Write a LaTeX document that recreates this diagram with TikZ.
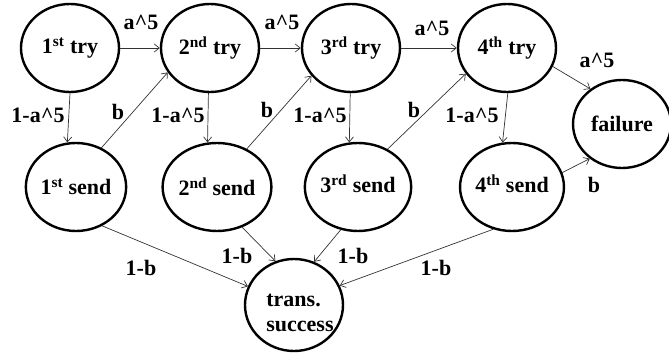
\documentclass[tikz,border=0pt]{standalone}
\usepackage{fontspec}
\newfontfamily\tnr{Liberation Serif}
\newcommand{\dfont}{\tnr\bfseries\fontsize{22}{25}\selectfont}
\usetikzlibrary{shapes.geometric,arrows.meta}
\begin{document}
\begin{tikzpicture}[x=1pt,y=-1pt,
  st/.style={draw, ellipse, line width=2.4pt, minimum width=98pt, minimum height=88pt, inner sep=0pt, font=\dfont},
  lbl/.style={font=\dfont, inner sep=0pt},
  ar/.style={draw=black!80, line width=0.7pt, -{Straight Barb[length=5pt,width=8pt]}}]
\useasboundingbox (0,0) rectangle (669,358);
\node[st] (t1) at (70,48) {\dfont 1\textsuperscript{st} try};
\node[st] (t2) at (210,48) {\dfont 2\textsuperscript{nd} try};
\node[st] (t3) at (351,48) {\dfont 3\textsuperscript{rd} try};
\node[st] (t4) at (507,48) {\dfont 4\textsuperscript{th} try};
\node[st] (f) at (622,124) {\dfont failure};
\node[st] (s1) at (76,187) {\dfont 1\textsuperscript{st} send};
\node[st] (s2) at (217,187) {\dfont 2\textsuperscript{nd} send};
\node[st] (s3) at (358,187) {\raisebox{7pt}{\dfont 3\textsuperscript{rd} send}};
\node[st] (s4) at (512,187) {\raisebox{7pt}{\dfont 4\textsuperscript{th} send}};
\node[st, minimum height=92pt] (ts) at (294,305) {};
\node[lbl, align=left] (tstxt) at (300,313) {\dfont trans.\\\dfont success};

\draw[ar] (t1.east) -- (t2.west);
\draw[ar] (t2.east) -- (t3.west);
\draw[ar] (t3.east) -- (t4.west);
\draw[ar] (t4.-22) -- (f.132);
\draw[ar] (t1.270) -- (s1.101);
\draw[ar] (t2.268) -- (s2.102);
\draw[ar] (t3.269) -- (s3.101);
\draw[ar] (t4.271) -- (s4.102);
\draw[ar] (s1.57) -- (t2.210);
\draw[ar] (s2.52) -- (t3.215);
\draw[ar] (s3.52) -- (t4.212);
\draw[ar] (s4.16) -- (f.227);
\draw[ar] (s1.304) -- (ts.158);
\draw[ar] (s2.302) -- (ts.113);
\draw[ar] (s3.248) -- (ts.65);
\draw[ar] (s4.246) -- (ts.23);

\node[lbl] (l1) at (141,22) {\dfont a\^{}5};
\node[lbl] (l2) at (282,22) {\dfont a\^{}5};
\node[lbl] (l3) at (432,28) {\dfont a\^{}5};
\node[lbl] (l4) at (597,60) {\dfont a\^{}5};
\node[lbl] (m1) at (38,115) {\dfont 1-a\^{}5};
\node[lbl] (m2) at (178,115) {\dfont 1-a\^{}5};
\node[lbl] (m3) at (320,115) {\dfont 1-a\^{}5};
\node[lbl] (m4) at (472,115) {\dfont 1-a\^{}5};
\node[lbl] (b1) at (118,112) {\dfont b};
\node[lbl] (b2) at (267,110) {\dfont b};
\node[lbl] (b3) at (414,110) {\dfont b};
\node[lbl] (b4) at (594,185) {\dfont b};
\node[lbl] (c1) at (141,268) {\dfont 1-b};
\node[lbl] (c2) at (237,256) {\dfont 1-b};
\node[lbl] (c3) at (353,256) {\dfont 1-b};
\node[lbl] (c4) at (436,268) {\dfont 1-b};
\end{tikzpicture}
\end{document}
